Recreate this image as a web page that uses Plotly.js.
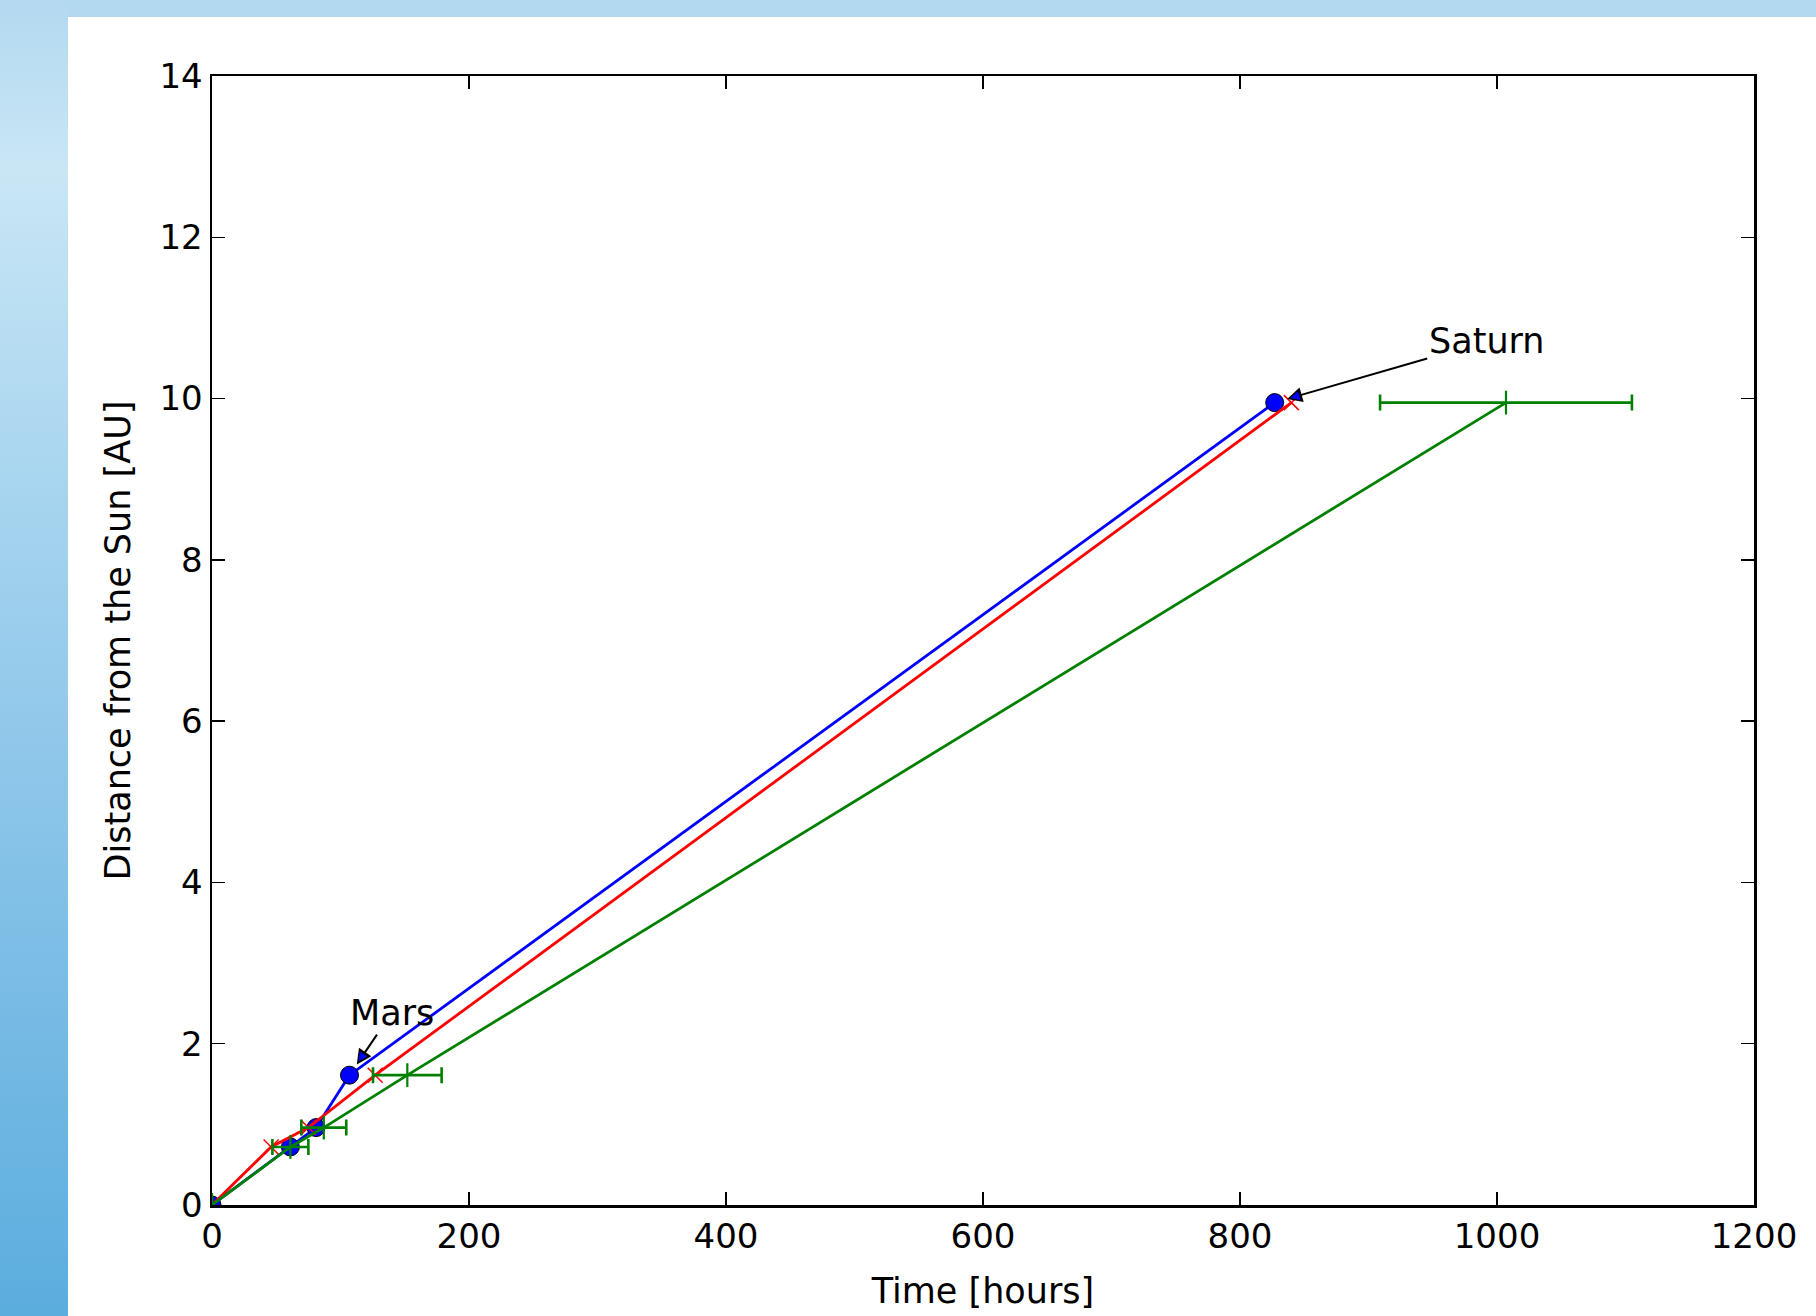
<!DOCTYPE html>
<html><head><meta charset="utf-8">
<script src="https://cdn.plot.ly/plotly-3.0.1.min.js"></script>
<style>
html,body{margin:0;padding:0;}
body{width:1816px;height:1316px;position:relative;overflow:hidden;background:#b3d9f0;}
#left{position:absolute;left:0;top:0;width:68px;height:1316px;background:linear-gradient(to bottom,#b3d9f0 0px,#c9e6f5 170px,#a6d4ef 500px,#86c2e8 850px,#5badde 1316px);}
#chart{position:absolute;left:68px;top:17px;width:1748px;height:1299px;background:#fff;}
</style></head><body>
<div id="left"></div><div id="chart"></div>
<script>
// Data
const planets      = ['Sun', 'Venus', 'Earth', 'Mars', 'Saturn'];
const distanceAU   = [0, 0.72, 0.96, 1.61, 9.95];
const timeBlue     = [0, 61, 81, 107, 827];
const timeRed      = [0, 46, 75, 127, 840];
const timeGreen    = [0, 61, 87, 152, 1007];
const timeGreenErr = [0, 14, 17.5, 26.7, 98];
const xTickVals    = [0, 200, 400, 600, 800, 1000, 1200];
const yTickVals    = [0, 2, 4, 6, 8, 10, 12, 14];
const xTitle = 'Time [hours]';
const yTitle = 'Distance from the Sun [AU]';

const FONT = 'DejaVu Sans, Liberation Sans, sans-serif';

const traces = [
  {
    x: timeBlue, y: distanceAU, text: planets, type: 'scatter', mode: 'lines+markers',
    line: {color: '#0000ff', width: 2.8},
    marker: {symbol: 'circle', size: 18, color: '#0000ff', line: {color: '#000', width: 1}},
    showlegend: false, hoverinfo: 'x+y+text'
  },
  {
    x: timeRed, y: distanceAU, text: planets, type: 'scatter', mode: 'lines+markers',
    line: {color: '#ff0000', width: 2.8},
    marker: {symbol: 'x-thin', size: 15, color: '#ff0000', line: {color: '#ff0000', width: 1.5}},
    showlegend: false, hoverinfo: 'x+y+text'
  },
  {
    x: timeGreen, y: distanceAU, text: planets, type: 'scatter', mode: 'lines+markers',
    line: {color: '#008000', width: 2.8},
    marker: {symbol: 'line-ns', size: 17, color: '#008000', line: {color: '#008000', width: 2.2}},
    error_x: {type: 'data', array: timeGreenErr, visible: true, color: '#008000', thickness: 2.6, width: 8},
    showlegend: false, hoverinfo: 'x+y+text'
  }
];

const axisCommon = {
  showline: true, linecolor: '#000', linewidth: 2.5, mirror: 'ticks',
  ticks: 'inside', ticklen: 13, tickwidth: 1.5, tickcolor: '#000',
  showgrid: false, zeroline: false,
  tickfont: {family: FONT, size: 34, color: '#000'},
  automargin: false
};

const arrowBase = {arrowcolor: '#000', arrowhead: 2, arrowsize: 1.5, arrowwidth: 2, standoff: 13,
  font: {family: FONT, size: 35, color: '#000'}, showarrow: true};

const layout = {
  width: 1748, height: 1299,
  margin: {l: 144, r: 62, t: 59, b: 111, pad: 0},
  paper_bgcolor: '#ffffff', plot_bgcolor: '#ffffff',
  font: {family: FONT, color: '#000'},
  xaxis: Object.assign({}, axisCommon, {
    range: [0, 1200], tickvals: xTickVals, ticktext: xTickVals.map(String),
    title: {text: xTitle, font: {family: FONT, size: 35, color: '#000'}, standoff: 23}
  }),
  yaxis: Object.assign({}, axisCommon, {
    range: [0, 14], tickvals: yTickVals, ticktext: yTickVals.map(String),
    title: {text: yTitle, font: {family: FONT, size: 35, color: '#000'}, standoff: 18}
  }),
  annotations: [
    Object.assign({}, arrowBase, {x: timeBlue[3], y: distanceAU[3], xref: 'x', yref: 'y',
      ax: 139.7, ay: 2.38, axref: 'x', ayref: 'y', text: planets[3]}),
    Object.assign({}, arrowBase, {x: timeBlue[4], y: distanceAU[4], xref: 'x', yref: 'y',
      ax: 992, ay: 10.71, axref: 'x', ayref: 'y', text: planets[4]}),
    // inner blue fill of the arrow heads
    {x: timeBlue[3], y: distanceAU[3], xref: 'x', yref: 'y', ax: 14.3, ay: -21.6, text: '',
      showarrow: true, arrowcolor: '#0000ff', arrowhead: 2, arrowsize: 1.8, arrowwidth: 1, standoff: 16.5,
      font: {size: 1}},
    {x: timeBlue[4], y: distanceAU[4], xref: 'x', yref: 'y', ax: 25, ay: -7.1, text: '',
      showarrow: true, arrowcolor: '#0000ff', arrowhead: 2, arrowsize: 1.8, arrowwidth: 1, standoff: 16.5,
      font: {size: 1}}
  ]
};

Plotly.newPlot('chart', traces, layout, {displayModeBar: false, staticPlot: true});
</script>
</body></html>
